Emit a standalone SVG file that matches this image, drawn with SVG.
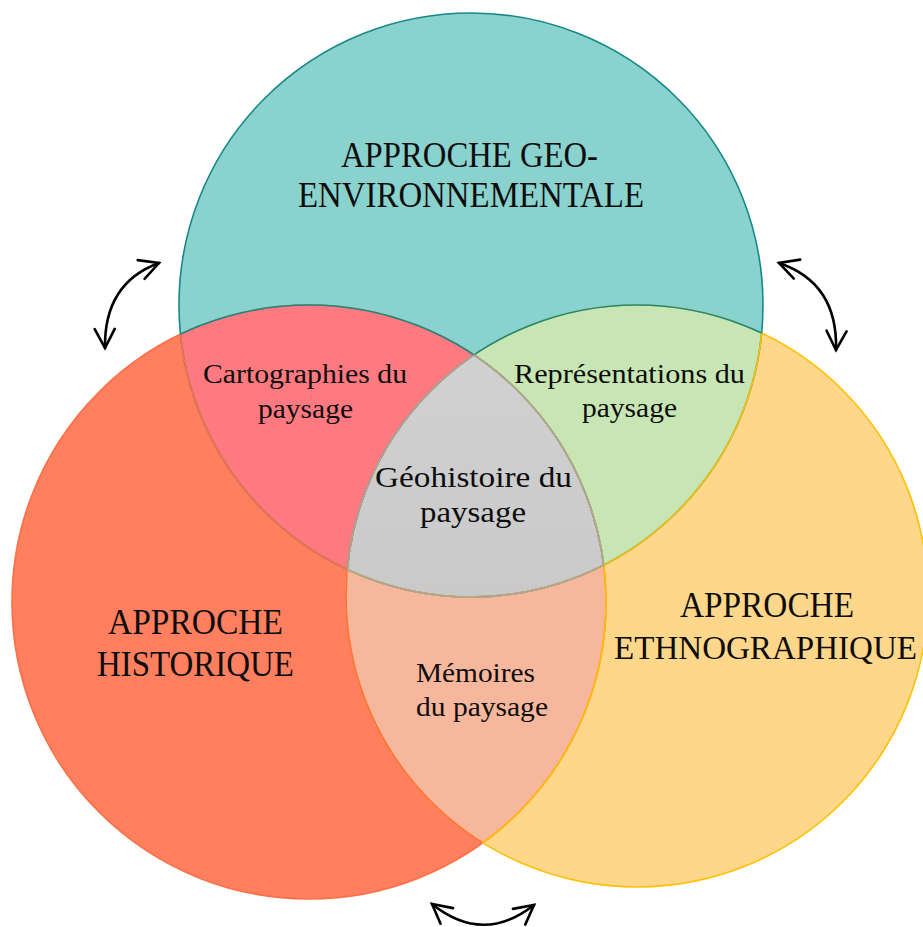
<svg xmlns="http://www.w3.org/2000/svg" width="923" height="927" viewBox="0 0 923 927">
  <style>
    .lbl { font-family: "Liberation Serif", "Times New Roman", serif; fill: #0d0d0d; }
    .big { font-size: 35px; }
    .mid { font-size: 30px; }
    .sm { font-size: 27px; }
    .arrow { fill: none; stroke: #000; stroke-width: 2.6; stroke-linecap: round; marker-start: url(#chev); marker-end: url(#chev); }
  </style>
  <defs>
    <clipPath id="cT"><circle cx="471" cy="305" r="292"/></clipPath>
    <clipPath id="cL"><circle cx="309" cy="602" r="297"/></clipPath>
    <clipPath id="cR"><circle cx="637" cy="596" r="291"/></clipPath>
    <circle id="circT" cx="471" cy="305" r="292"/>
    <circle id="circL" cx="309" cy="602" r="297"/>
    <circle id="circR" cx="637" cy="596" r="291"/>
    <linearGradient id="greyGrad" x1="0" y1="0" x2="0" y2="1">
      <stop offset="0" stop-color="#D2D2D2"/>
      <stop offset="1" stop-color="#C1C1C1"/>
    </linearGradient>
    <marker id="chev" viewBox="-22 -12 26 24" refX="0" refY="0" markerWidth="26" markerHeight="24" markerUnits="userSpaceOnUse" orient="auto-start-reverse">
      <path d="M -19,-10 L 0,0 L -19,10" fill="none" stroke="#000" stroke-width="2.6" stroke-linecap="round" stroke-linejoin="miter"/>
    </marker>
  </defs>

  <!-- base circles -->
  <g id="node-historique">
    <use href="#circL" fill="#FF7F5E"/>
  </g>
  <g id="node-ethnographique">
    <use href="#circR" fill="#FFD78B"/>
  </g>
  <g id="node-geoenv">
    <use href="#circT" fill="#8AD2CE"/>
  </g>

  <!-- overlap regions -->
  <g id="node-cartographies">
    <g clip-path="url(#cT)"><use href="#circL" fill="#FF7A80"/></g>
  </g>
  <g id="node-representations">
    <g clip-path="url(#cT)"><use href="#circR" fill="#C8E6B3"/></g>
  </g>
  <g id="node-memoires">
    <g clip-path="url(#cL)"><use href="#circR" fill="#F7B79C"/></g>
  </g>
  <g id="node-geohistoire">
    <g clip-path="url(#cT)"><g clip-path="url(#cL)"><use href="#circR" fill="url(#greyGrad)"/></g></g>
  </g>

  <!-- outlines -->
  <g id="outlines" fill="none" stroke-width="1.6">
    <use href="#circL" stroke="#FF6E45"/>
    <use href="#circR" stroke="#FFC000"/>
    <use href="#circT" stroke="#168888"/>
    <g clip-path="url(#cT)">
      <use href="#circL" stroke="#168888"/>
      <use href="#circR" stroke="#168888"/>
    </g>
    <g clip-path="url(#cL)">
      <use href="#circT" stroke="#FF6E45"/>
      <use href="#circR" stroke="#FF6E45"/>
    </g>
    <g clip-path="url(#cR)">
      <use href="#circT" stroke="#FFC000"/>
      <use href="#circL" stroke="#FFC000"/>
    </g>
    <g clip-path="url(#cT)"><g clip-path="url(#cL)"><use href="#circR" stroke="#A6A6A6"/></g></g>
    <g clip-path="url(#cT)"><g clip-path="url(#cR)"><use href="#circL" stroke="#A6A6A6"/></g></g>
    <g clip-path="url(#cL)"><g clip-path="url(#cR)"><use href="#circT" stroke="#A6A6A6"/></g></g>
  </g>

  <!-- labels -->
  <g id="label-geoenv" class="lbl big">
    <text x="341" y="167" textLength="257" lengthAdjust="spacingAndGlyphs">APPROCHE GEO-</text>
    <text x="298" y="207" textLength="346" lengthAdjust="spacingAndGlyphs">ENVIRONNEMENTALE</text>
  </g>
  <g id="label-historique" class="lbl big">
    <text x="108" y="634" textLength="175" lengthAdjust="spacingAndGlyphs">APPROCHE</text>
    <text x="97" y="676" textLength="197" lengthAdjust="spacingAndGlyphs">HISTORIQUE</text>
  </g>
  <g id="label-ethnographique" class="lbl big">
    <text x="680" y="617" textLength="174" lengthAdjust="spacingAndGlyphs">APPROCHE</text>
    <text x="614" y="659" style="font-size:33px" textLength="303" lengthAdjust="spacingAndGlyphs">ETHNOGRAPHIQUE</text>
  </g>
  <g id="label-cartographies" class="lbl sm">
    <text x="203" y="383" textLength="204" lengthAdjust="spacingAndGlyphs">Cartographies du</text>
    <text x="258" y="418" textLength="95" lengthAdjust="spacingAndGlyphs">paysage</text>
  </g>
  <g id="label-representations" class="lbl sm">
    <text x="514" y="383" textLength="231" lengthAdjust="spacingAndGlyphs">Représentations du</text>
    <text x="582" y="417" textLength="95" lengthAdjust="spacingAndGlyphs">paysage</text>
  </g>
  <g id="label-geohistoire" class="lbl mid">
    <text x="375" y="487" textLength="197" lengthAdjust="spacingAndGlyphs">Géohistoire du</text>
    <text x="420" y="522" textLength="106" lengthAdjust="spacingAndGlyphs">paysage</text>
  </g>
  <g id="label-memoires" class="lbl sm">
    <text x="416" y="682" textLength="119" lengthAdjust="spacingAndGlyphs">Mémoires</text>
    <text x="416" y="716" textLength="132" lengthAdjust="spacingAndGlyphs">du paysage</text>
  </g>

  <!-- connectors -->
  <g id="connectors">
    <path class="arrow" d="M 105,348 Q 104,283 159,263"/>
    <path class="arrow" d="M 779,263 Q 838,283 836,350"/>
    <path class="arrow" d="M 432,904 Q 483,945 534,905"/>
  </g>
</svg>
